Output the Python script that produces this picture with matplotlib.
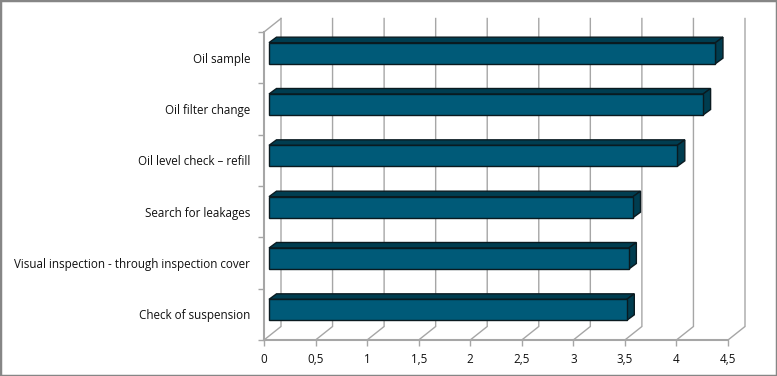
# -*- coding: utf-8 -*-
import matplotlib
matplotlib.use('Agg')
import matplotlib.pyplot as plt
from matplotlib.patches import Polygon

plt.rcParams['font.family'] = ['Open Sans', 'DejaVu Sans']

# data, bottom category first
categories = ['Check of suspension', 'Visual inspection - through inspection cover',
              'Search for leakages', 'Oil level check – refill',
              'Oil filter change', 'Oil sample']
values = [3.47, 3.49, 3.53, 3.96, 4.21, 4.33]
xtick_values = [0, 0.5, 1, 1.5, 2, 2.5, 3, 3.5, 4, 4.5]
xtick_labels = ['0', '0,5', '1', '1,5', '2', '2,5', '3', '3,5', '4', '4,5']

W, H = 777, 376
fig = plt.figure(figsize=(W / 100, H / 100), dpi=100, facecolor='white')
ax = fig.add_axes([264 / W, 1 - 340 / H, 464 / W, 308 / H])
ax.set_xlim(0, 4.5)
ax.set_ylim(-0.5, 5.5)
ax.patch.set_visible(False)

# pixels to data units, for the fake 3d depth
px_x = 4.5 / 464
px_y = 6 / 308
grid_col = '#a6a6a6'
wall_dx, wall_dy = 17 * px_x, 13.5 * px_y
front_dx, front_dy = 5 * px_x, 4.5 * px_y
bar_dx, bar_dy = 7.5 * px_x, 5.5 * px_y
bar_h = 21 * px_y

# back wall and floor lines
for x in xtick_values:
    ax.plot([x, x + wall_dx, x + wall_dx], [-0.5, -0.5 + wall_dy, 5.5 + wall_dy],
            color=grid_col, lw=1, clip_on=False, zorder=1, solid_joinstyle='miter')
ax.plot([0, wall_dx], [5.5, 5.5 + wall_dy], color=grid_col, lw=1, clip_on=False, zorder=1)

# bars: front face, then top and end face
for i, v in enumerate(values):
    x0 = front_dx
    x1 = front_dx + v
    y0 = i + front_dy - bar_h / 2
    y1 = i + front_dy + bar_h / 2
    ax.barh(y0 + bar_h / 2, v, height=bar_h, left=x0, color='#005a78', edgecolor='#0a1a20',
            linewidth=1, zorder=4)
    top = [(x0, y1), (x1, y1), (x1 + bar_dx, y1 + bar_dy), (x0 + bar_dx, y1 + bar_dy)]
    side = [(x1, y0), (x1, y1), (x1 + bar_dx, y1 + bar_dy), (x1 + bar_dx, y0 + bar_dy)]
    for pts in (top, side):
        ax.add_patch(Polygon(pts, closed=True, facecolor='#003d50', edgecolor='#0a1a20',
                             linewidth=1, zorder=3, clip_on=False))

# axes
for name in ['top', 'right']:
    ax.spines[name].set_visible(False)
for name in ['left', 'bottom']:
    ax.spines[name].set_color(grid_col)
    ax.spines[name].set_linewidth(1.5)

ax.set_xticks(xtick_values)
ax.set_xticklabels(xtick_labels)
ax.set_yticks([i - 0.5 for i in range(7)])
ax.set_yticklabels([])
ax.set_yticks(range(6), minor=True)
ax.set_yticklabels(categories, minor=True)
ax.tick_params(axis='x', length=4, width=1, color=grid_col, pad=5.5, labelsize=8.4, labelcolor='#111111')
ax.tick_params(axis='y', which='major', length=4, width=1, color=grid_col)
ax.tick_params(axis='y', which='minor', length=0, pad=10, labelsize=8.4, labelcolor='#111111')

# grey picture frame
fig.add_artist(plt.Rectangle((0, 0), 1, 1, transform=fig.transFigure, fill=False,
                             edgecolor='#868686', linewidth=2.5))

fig.savefig('out.png', dpi=100)
